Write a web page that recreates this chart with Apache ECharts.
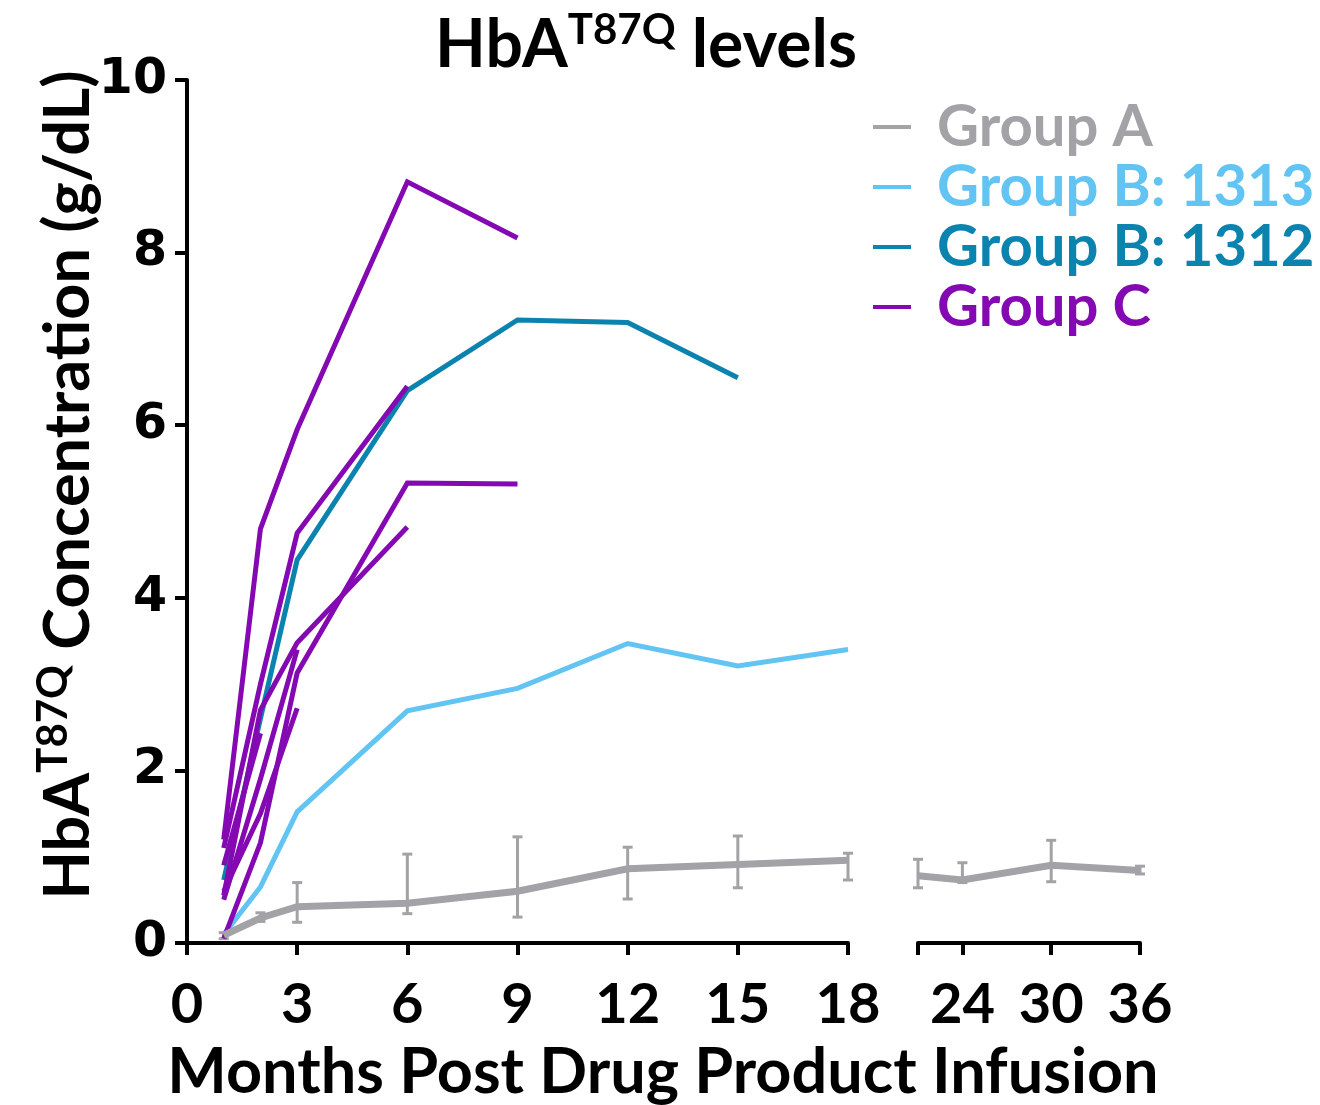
<!DOCTYPE html>
<html>
<head>
<meta charset="utf-8">
<script src="https://cdn.jsdelivr.net/npm/echarts@6/dist/echarts.min.js"></script>
<style>html,body{margin:0;padding:0;background:#fff}#c{width:1320px;height:1105px}</style>
</head>
<body>
<div id="c"></div>
<script>
// ---- Data ----
const yTicks = [0, 2, 4, 6, 8, 10];
const xTicksSeg1 = [0, 3, 6, 9, 12, 15, 18];
const xTicksSeg2 = [24, 30, 36];

// Group A (mean with error bars)
const monthsA1 = [1, 2, 3, 6, 9, 12, 15, 18];
const meanA1   = [0.09, 0.29, 0.42, 0.46, 0.60, 0.86, 0.91, 0.96];
const lowA1    = [0.05, 0.25, 0.24, 0.34, 0.30, 0.51, 0.64, 0.73];
const highA1   = [0.12, 0.35, 0.70, 1.03, 1.23, 1.11, 1.24, 1.04];
const monthsA2 = [21, 24, 30, 36];
const meanA2   = [0.78, 0.73, 0.90, 0.84];
const lowA2    = [0.64, 0.70, 0.71, 0.80];
const highA2   = [0.97, 0.93, 1.19, 0.89];

// Group B
const monthsB1313 = [1, 2, 3, 6, 9, 12, 15, 18];
const valuesB1313 = [0.10, 0.65, 1.52, 2.69, 2.95, 3.47, 3.21, 3.40];
const monthsB1312 = [1, 2, 3, 6, 9, 12, 15];
const valuesB1312 = [0.73, 2.60, 4.44, 6.40, 7.22, 7.19, 6.55];

// Group C (individual patients)
const monthsC1 = [1, 2, 3, 6, 9];   const valuesC1 = [1.20, 4.80, 5.95, 8.82, 8.17];
const monthsC2 = [1, 2, 3, 6];      const valuesC2 = [1.10, 3.00, 4.75, 6.45];
const monthsC3 = [1, 2, 3, 6];      const valuesC3 = [0.55, 2.70, 3.48, 4.82];
const monthsC4 = [1, 2, 3, 6, 9];   const valuesC4 = [0.05, 1.16, 3.13, 5.33, 5.32];
const monthsC5 = [1, 2, 3];         const valuesC5 = [0.60, 1.50, 2.72];
const monthsC6 = [1, 2];            const valuesC6 = [0.90, 2.43];
const monthsC7 = [1, 2, 3];         const valuesC7 = [0.50, 1.90, 3.40];

// ---- Styles ----
const cA = '#A3A3A7', cB13 = '#62C4F2', cB12 = '#0A84AE', cC = '#8409B2';
const sans = 'Lato';
const zip = (xs, ys) => xs.map((x, i) => [x, ys[i]]);

function errSeries(months, lo, hi, axisIdx) {
  return {
    type: 'custom', name: 'Group A error', xAxisIndex: axisIdx, yAxisIndex: axisIdx,
    clip: false, z: 3,
    data: months.map((m, i) => [m, lo[i], hi[i]]),
    encode: { x: 0, y: [1, 2] },
    renderItem: function (params, api) {
      const x = api.value(0);
      const pL = api.coord([x, api.value(1)]);
      const pH = api.coord([x, api.value(2)]);
      const w = 5;
      const st = { stroke: cA, lineWidth: 3 };
      return { type: 'group', children: [
        { type: 'line', shape: { x1: pL[0], y1: pL[1], x2: pH[0], y2: pH[1] }, style: st },
        { type: 'line', shape: { x1: pL[0] - w, y1: pL[1], x2: pL[0] + w, y2: pL[1] }, style: st },
        { type: 'line', shape: { x1: pH[0] - w, y1: pH[1], x2: pH[0] + w, y2: pH[1] }, style: st }
      ]};
    }
  };
}
function lineSeries(name, data, color, width, axisIdx, z) {
  return {
    type: 'line', name: name, data: data, xAxisIndex: axisIdx || 0, yAxisIndex: axisIdx || 0,
    symbol: 'none', clip: false, z: z || 2, animation: false,
    lineStyle: { color: color, width: width, cap: 'butt', join: 'miter' },
    itemStyle: { color: color }
  };
}

const axisLineStyle = { show: true, lineStyle: { color: '#000', width: 4 } };
const tickStyle = { show: true, length: 12, inside: false, lineStyle: { color: '#000', width: 4 } };
const xLabel = { margin: 34, fontFamily: sans, fontWeight: 'bold', fontSize: 56, color: '#000' };

const chart = echarts.init(document.getElementById('c'), null, { renderer: 'canvas' });
const option = {
  animation: false,
  backgroundColor: '#fff',
  grid: [
    { left: 187, top: 80, width: 661, height: 863 },
    { left: 918, top: 80, width: 222, height: 863 }
  ],
  xAxis: [
    { type: 'value', gridIndex: 0, min: 0, max: 18, interval: 3,
      axisLine: axisLineStyle, axisTick: tickStyle, splitLine: { show: false },
      axisLabel: Object.assign({ customValues: xTicksSeg1 }, xLabel) },
    { type: 'value', gridIndex: 1, min: 21, max: 36,
      axisLine: axisLineStyle,
      axisTick: Object.assign({}, tickStyle, { customValues: [21].concat(xTicksSeg2) }),
      splitLine: { show: false },
      axisLabel: Object.assign({ customValues: xTicksSeg2 }, xLabel) }
  ],
  yAxis: [
    { type: 'value', gridIndex: 0, min: 0, max: 10, interval: 2,
      axisLine: axisLineStyle, axisTick: tickStyle, splitLine: { show: false },
      axisLabel: { margin: 20, fontFamily: 'DejaVu Sans', fontWeight: 'bold', fontSize: 49, color: '#000',
        customValues: yTicks } },
    { type: 'value', gridIndex: 1, min: 0, max: 10, show: false, splitLine: { show: false } }
  ],
  legend: {
    orient: 'vertical', left: 873, top: 98, itemGap: 2, padding: 0,
    icon: 'rect', itemWidth: 38, itemHeight: 4, selectedMode: false,
    textStyle: { fontFamily: sans, fontWeight: 'bold', fontSize: 58, lineHeight: 57, padding: [0, 0, 0, 21] },
    data: [
      { name: 'Group A', textStyle: { color: cA } },
      { name: 'Group B: 1313', textStyle: { color: cB13 } },
      { name: 'Group B: 1312', textStyle: { color: cB12 } },
      { name: 'Group C', textStyle: { color: cC } }
    ]
  },
  graphic: [
    { type: 'text', x: 646, y: 44, z: 10,
      style: { text: '{a|HbA}{s|T87Q}{a| levels}', align: 'center', verticalAlign: 'middle',
        rich: {
          a: { fontFamily: sans, fontWeight: 'bold', fontSize: 66, lineHeight: 70, fill: '#000', verticalAlign: 'bottom' },
          s: { fontFamily: sans, fontWeight: 'bold', fontSize: 42, lineHeight: 70, fill: '#000', verticalAlign: 'top', padding: [0, 0, 24, 0] }
        } } },
    { type: 'text', x: 66, y: 485, rotation: Math.PI / 2, z: 10,
      style: { text: '{a|HbA}{s|T87Q}{a| Concentration (g/dL)}', align: 'center', verticalAlign: 'middle',
        rich: {
          a: { fontFamily: sans, fontWeight: 'bold', fontSize: 63, lineHeight: 68, fill: '#000', verticalAlign: 'bottom' },
          s: { fontFamily: sans, fontWeight: 'bold', fontSize: 42, lineHeight: 68, fill: '#000', verticalAlign: 'top', padding: [0, 0, 24, 0] }
        } } },
    { type: 'text', x: 663, y: 1073, z: 10,
      style: { text: 'Months Post Drug Product Infusion', align: 'center', verticalAlign: 'middle',
        fontFamily: sans, fontWeight: 'bold', fontSize: 63, fill: '#000' } }
  ],
  series: [
    lineSeries('Group A', zip(monthsA1, meanA1), cA, 7, 0, 4),
    lineSeries('Group A', zip(monthsA2, meanA2), cA, 7, 1, 4),
    errSeries(monthsA1, lowA1, highA1, 0),
    errSeries(monthsA2, lowA2, highA2, 1),
    lineSeries('Group B: 1313', zip(monthsB1313, valuesB1313), cB13, 5, 0, 2),
    lineSeries('Group B: 1312', zip(monthsB1312, valuesB1312), cB12, 5, 0, 2),
    lineSeries('Group C', zip(monthsC1, valuesC1), cC, 5, 0, 3),
    lineSeries('Group C', zip(monthsC2, valuesC2), cC, 5, 0, 3),
    lineSeries('Group C', zip(monthsC3, valuesC3), cC, 5, 0, 3),
    lineSeries('Group C', zip(monthsC4, valuesC4), cC, 5, 0, 3),
    lineSeries('Group C', zip(monthsC5, valuesC5), cC, 5, 0, 3),
    lineSeries('Group C', zip(monthsC6, valuesC6), cC, 5, 0, 3),
    lineSeries('Group C', zip(monthsC7, valuesC7), cC, 5, 0, 3)
  ]
};
chart.setOption(option);
</script>
</body>
</html>
